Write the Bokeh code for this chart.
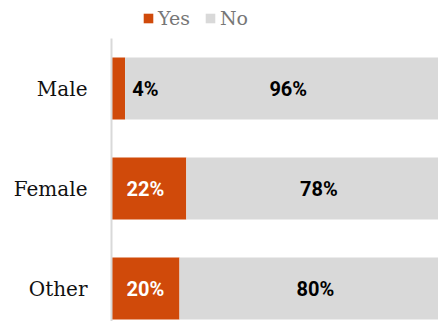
from bokeh.plotting import figure
from bokeh.models import Range1d, FixedTicker, Legend, LegendItem, ColumnDataSource
from bokeh.core.properties import value
from bokeh.embed import file_html
from bokeh.resources import INLINE

categories = ["Male", "Female", "Other"]
yes_pct = [4, 22, 20]
no_pct = [96, 78, 80]
series_names = ["Yes", "No"]

YES_COLOR = "#D04A0A"
NO_COLOR = "#D9D9D9"

n = len(categories)
ypos = [n - i - 0.5 for i in range(n)]

p = figure(width=438, height=321, output_backend="svg", toolbar_location=None,
           x_range=Range1d(0, 96.2), y_range=Range1d(0.17, 3.38),
           x_axis_location=None, min_border_left=111, min_border_right=0,
           min_border_top=0, min_border_bottom=0)
p.outline_line_color = None
p.grid.visible = False
p.background_fill_color = "white"
p.border_fill_color = "white"

src = ColumnDataSource(dict(
    y=ypos, yes=yes_pct, no=no_pct,
    no_end=[a + b for a, b in zip(yes_pct, no_pct)],
    yes_lbl=[f"{v}%" for v in yes_pct],
    no_lbl=[f"{v}%" for v in no_pct],
    yes_lbl_x=[10 for _ in yes_pct],
    no_lbl_x=[a + b / 2 for a, b in zip(yes_pct, no_pct)],
    yes_lbl_color=["white" if v > 10 else "black" for v in yes_pct],
))

r_yes = p.hbar(y="y", left=0, right="yes", height=0.62, source=src,
               fill_color=YES_COLOR, line_color=None)
r_no = p.hbar(y="y", left="yes", right="no_end", height=0.62, source=src,
              fill_color=NO_COLOR, line_color=None)

p.text(x="yes_lbl_x", y="y", text="yes_lbl", source=src, text_align="center",
       text_baseline="middle", text_font=value("Roboto"), text_font_style="bold",
       text_font_size="20px", text_color="yes_lbl_color")
p.text(x="no_lbl_x", y="y", text="no_lbl", source=src, text_align="center",
       text_baseline="middle", text_font=value("Roboto"), text_font_style="bold",
       text_font_size="20px", text_color="black")

ax = p.yaxis[0]
ax.ticker = FixedTicker(ticks=ypos)
ax.bounds = (0.17, 3.0)
ax.major_label_overrides = {y: c for y, c in zip(ypos, categories)}
ax.major_tick_line_color = None
ax.minor_tick_line_color = None
ax.axis_line_color = "#D9D9D9"
ax.axis_line_width = 2
ax.major_label_text_font = "DejaVu Serif"
ax.major_label_text_font_size = "20px"
ax.major_label_text_color = "#111111"
ax.major_label_standoff = 18

legend = Legend(items=[LegendItem(label=series_names[0], renderers=[r_yes]),
                       LegendItem(label=series_names[1], renderers=[r_no])],
                orientation="horizontal", location=(31, 292),
                glyph_width=12, glyph_height=12, label_standoff=4, spacing=14,
                padding=0, margin=0, label_height=20,
                label_text_font="DejaVu Serif", label_text_font_size="19px",
                label_text_color="#777777", border_line_alpha=0,
                background_fill_alpha=0)
p.add_layout(legend, "center")

open("out.html", "w").write(file_html(p, INLINE))
